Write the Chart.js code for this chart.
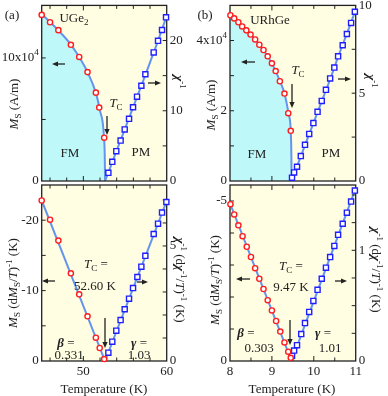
<!DOCTYPE html>
<html>
<head>
<meta charset="utf-8">
<script src="https://cdn.jsdelivr.net/npm/chart.js@4.4.1/dist/chart.umd.min.js"></script>
<style>
  body { margin: 0; background: #fff; }
  #wrap { position: relative; width: 388px; height: 396px; overflow: hidden; }
  canvas { position: absolute; left: 0; top: 0; }
  .t { position: absolute; transform: translate(-50%, -50%); white-space: nowrap;
       font: 13px "Liberation Serif", serif; color: #222; line-height: 1; z-index: 5; }
  .rl { transform: translate(-50%, -50%) rotate(-90deg); }
  .rr { transform: translate(-50%, -50%) rotate(90deg); }
  sub { font-size: 9px; vertical-align: -3px; }
  sup { font-size: 9px; vertical-align: 5px; }
</style>
</head>
<body>
<div id="wrap">
  <canvas id="c1" width="388" height="396"></canvas>
  <canvas id="c2" width="388" height="396"></canvas>
  <canvas id="c3" width="388" height="396"></canvas>
  <canvas id="c4" width="388" height="396"></canvas>

  <div class="t" style="left:12px;top:14px">(a)</div>
  <div class="t" style="left:74px;top:19px">UGe<sub>2</sub></div>
  <div class="t" style="left:70px;top:152px">FM</div>
  <div class="t" style="left:141px;top:151px">PM</div>
  <div class="t" style="left:116px;top:104px"><i>T</i><sub>C</sub></div>
  <div class="t rl" style="left:15px;top:104px"><i>M</i><sub>S</sub> (A/m)</div>
  <div class="t rr" style="left:180px;top:82px"><b><i>χ</i></b><sup>-1</sup></div>

  <div class="t" style="left:205px;top:14px">(b)</div>
  <div class="t" style="left:270px;top:19px">URhGe</div>
  <div class="t" style="left:257px;top:153px">FM</div>
  <div class="t" style="left:331px;top:152px">PM</div>
  <div class="t" style="left:298px;top:71px"><i>T</i><sub>C</sub></div>
  <div class="t rl" style="left:212px;top:105px"><i>M</i><sub>S</sub> (A/m)</div>
  <div class="t rr" style="left:372px;top:81px"><b><i>χ</i></b><sup>-1</sup></div>

  <div class="t" style="left:96px;top:265px"><i>T</i><sub>C</sub> =</div>
  <div class="t" style="left:95px;top:285px">52.60 K</div>
  <div class="t" style="left:66px;top:342px"><b><i>β</i></b> =</div>
  <div class="t" style="left:69px;top:354px">0.331</div>
  <div class="t" style="left:139px;top:342px"><b><i>γ</i></b> =</div>
  <div class="t" style="left:139px;top:354px">1.03</div>
  <div class="t rl" style="left:13px;top:283px"><i>M</i><sub>S</sub> (d<i>M</i><sub>S</sub>/<i>T</i>)<sup>-1</sup> (K)</div>
  <div class="t rr" style="left:181px;top:280px"><b><i>χ</i></b><sup>-1</sup> (d<b><i>χ</i></b><sup>-1</sup>/<i>T</i>)<sup>-1</sup> (K)</div>
  <div class="t" style="left:104px;top:388px">Temperature (K)</div>

  <div class="t" style="left:291px;top:267px"><i>T</i><sub>C</sub> =</div>
  <div class="t" style="left:291px;top:286px">9.47 K</div>
  <div class="t" style="left:246px;top:332px"><b><i>β</i></b> =</div>
  <div class="t" style="left:259px;top:347px">0.303</div>
  <div class="t" style="left:323px;top:332px"><b><i>γ</i></b> =</div>
  <div class="t" style="left:330px;top:347px">1.01</div>
  <div class="t rl" style="left:215px;top:280px"><i>M</i><sub>S</sub> (d<i>M</i><sub>S</sub>/<i>T</i>)<sup>-1</sup> (K)</div>
  <div class="t rr" style="left:377px;top:270px"><b><i>χ</i></b><sup>-1</sup> (d<b><i>χ</i></b><sup>-1</sup>/<i>T</i>)<sup>-1</sup> (K)</div>
  <div class="t" style="left:292px;top:388px">Temperature (K)</div>
</div>

<script>
// ---- UGe2, top: spontaneous magnetisation and inverse susceptibility
const ugeMsT = [45.0, 46.0, 47.0, 48.5, 49.5, 50.5, 51.5, 51.9, 52.5];
const ugeMs = [135000, 129000, 122600, 110700, 100800, 88500, 71800, 59700, 35200];
const ugeMsFitT = [45.0, 46.0, 47.0, 48.5, 49.5, 50.5, 51.5, 52.0, 52.45, 52.58, 52.6];
const ugeMsFit = [135500, 129200, 122400, 110900, 100700, 88500, 71600, 57000, 38000, 15000, 0];
const ugeChiT = [53.0, 53.47, 53.95, 54.47, 54.96, 55.48, 55.96, 56.44, 56.96, 57.44, 58.44, 58.96, 59.44, 59.92];
const ugeChi = [1.17, 2.73, 4.24, 5.75, 7.34, 8.85, 10.5, 12.0, 13.56, 15.2, 18.3, 19.96, 21.5, 23.3];
const ugeChiFitT = [52.6, 53.0, 54.0, 55.0, 56.0, 57.0, 58.0, 59.0, 60.0];
const ugeChiFit = [0, 1.2, 4.35, 7.45, 10.6, 13.7, 16.9, 20.1, 23.5];

// ---- URhGe, top
const urhMsT = [8.01, 8.10, 8.20, 8.29, 8.39, 8.49, 8.60, 8.70, 8.80, 8.90, 9.00, 9.09, 9.19, 9.30, 9.39, 9.45];
const urhMs = [47200, 46300, 45200, 44000, 42900, 41700, 40300, 38800, 37300, 35500, 33500, 31300, 28400, 24900, 19300, 14300];
const urhMsFitT = [8.0, 8.2, 8.4, 8.6, 8.8, 9.0, 9.2, 9.3, 9.4, 9.45, 9.465, 9.47];
const urhMsFit = [47300, 45200, 42800, 40300, 37300, 33500, 28200, 24900, 19000, 14300, 7000, 0];
const urhChiT = [9.48, 9.53, 9.60, 9.69, 9.79, 9.89, 9.99, 10.09, 10.19, 10.29, 10.39, 10.49, 10.58, 10.69, 10.79, 10.89, 10.98];
const urhChi = [0.19, 0.49, 0.81, 1.42, 2.06, 2.68, 3.30, 3.94, 4.56, 5.19, 5.84, 6.46, 7.10, 7.73, 8.37, 9.00, 9.64];
const urhChiFitT = [9.47, 9.5, 9.6, 9.8, 10.0, 10.2, 10.4, 10.6, 10.8, 11.0];
const urhChiFit = [0, 0.3, 0.85, 2.1, 3.35, 4.6, 5.85, 7.2, 8.45, 9.75];

// ---- UGe2, bottom: Kouvel-Fisher plots
const ugeKfT = [45.0, 46.0, 47.0, 48.5, 49.5, 50.5, 51.5, 51.96, 52.5];
const ugeKf = [-22.8, -20.07, -17.1, -12.46, -9.47, -6.35, -3.31, -1.85, -0.28];
const ugeKfFitT = [45.0, 52.6];
const ugeKfFit = [-22.8, 0];
const ugeKfChiT = [53.0, 53.47, 53.95, 54.47, 54.96, 55.48, 55.96, 56.48, 56.96, 57.44, 58.44, 58.96, 59.44, 59.96];
const ugeKfChi = [0.36, 0.84, 1.32, 1.78, 2.25, 2.71, 3.17, 3.65, 4.10, 4.57, 5.52, 5.97, 6.45, 6.91];
const ugeKfChiFitT = [52.6, 60.0];
const ugeKfChiFit = [0, 6.95];

// ---- URhGe, bottom
const urhKfT = [8.01, 8.10, 8.20, 8.30, 8.40, 8.50, 8.60, 8.70, 8.80, 8.90, 9.00, 9.10, 9.20, 9.30, 9.39, 9.45];
const urhKf = [-4.90, -4.58, -4.24, -3.90, -3.57, -3.25, -2.90, -2.57, -2.25, -1.90, -1.58, -1.25, -0.92, -0.58, -0.29, -0.10];
const urhKfFitT = [8.0, 9.47];
const urhKfFit = [-4.93, 0];
const urhKfChiT = [9.48, 9.53, 9.60, 9.70, 9.79, 9.89, 9.99, 10.09, 10.19, 10.29, 10.39, 10.49, 10.58, 10.69, 10.79, 10.89, 10.98];
const urhKfChi = [0.048, 0.094, 0.143, 0.243, 0.343, 0.443, 0.543, 0.643, 0.743, 0.843, 0.939, 1.04, 1.14, 1.24, 1.34, 1.44, 1.54];
const urhKfChiFitT = [9.47, 11.0];
const urhKfChiFit = [0, 1.56];

// ---- ticks and tick labels
const ugeTempTicks = [46, 48, 50, 52, 54, 56, 58];
const ugeTempLabels = [50, 60];
const urhTempTicks = [8.5, 9, 9.5, 10, 10.5];
const urhTempLabels = [8, 9, 10, 11];
const ugeMsTicks = [50000, 100000];
const ugeMsTickVals = [0, 100000];
const ugeMsTickText = ['0', '10x10^4'];
const ugeChiTicks = [5, 10, 15, 20];
const ugeChiTickVals = [0, 10, 20];
const urhMsTicks = [10000, 20000, 30000, 40000];
const urhMsTickVals = [0, 20000, 40000];
const urhMsTickText = ['0', '2', '4x10^4'];
const urhChiTicks = [2.5, 5, 7.5];
const urhChiTickVals = [0, 5, 10];
const ugeKfTicks = [-5, -10, -15, -20];
const ugeKfTickVals = [0, -10, -20];
const ugeKfChiTicks = [1, 2, 3, 4, 5, 6, 7];
const ugeKfChiTickVals = [0, 5];
const urhKfTicks = [-1, -2, -3, -4, -5];
const urhKfTickVals = [0, -5];
const urhKfChiTicks = [0.25, 0.5, 0.75, 1, 1.25, 1.5];
const urhKfChiTickVals = [0, 1];

const FIT = '#6594ee', RED = '#ff1e1e', BLUE = '#2020ff', CYAN = '#bff8f8', PANEL = '#fffde2', INK = '#222';
const FONT = '13px "Liberation Serif", serif';
const SUPFONT = '9px "Liberation Serif", serif';

const pts = (xs, ys) => xs.map((x, i) => ({ x: x, y: ys[i] }));

const fitSet = (xs, ys, axis, fill) => ({
  data: pts(xs, ys), yAxisID: axis, showLine: true, borderColor: FIT, borderWidth: 2,
  pointRadius: 0, fill: fill ? 'origin' : false, backgroundColor: CYAN,
  cubicInterpolationMode: 'monotone', order: 1,
});
const circleSet = (xs, ys, axis) => ({
  data: pts(xs, ys), yAxisID: axis, marker: true, showLine: false, clip: false, order: 0,
  pointStyle: 'circle', pointRadius: 2.6, pointBorderWidth: 1.4,
  pointBorderColor: RED, pointBackgroundColor: '#fff',
});
const squareSet = (xs, ys, axis) => ({
  data: pts(xs, ys), yAxisID: axis, marker: true, showLine: false, clip: false, order: 0,
  pointStyle: 'rect', pointRadius: 3.6, pointBorderWidth: 1.4,
  pointBorderColor: BLUE, pointBackgroundColor: '#fff',
});

function drawLabel(ctx, text, x, y, align) {
  const parts = String(text).split('^');
  ctx.font = FONT;
  const wb = ctx.measureText(parts[0]).width;
  ctx.font = SUPFONT;
  const ws = parts[1] ? ctx.measureText(parts[1]).width : 0;
  const w = wb + ws;
  const x0 = align === 'right' ? x - w : align === 'center' ? x - w / 2 : x;
  ctx.textAlign = 'left';
  ctx.textBaseline = 'middle';
  ctx.font = FONT;
  ctx.fillText(parts[0], x0, y);
  if (parts[1]) {
    ctx.font = SUPFONT;
    ctx.fillText(parts[1], x0 + wb, y - 5);
  }
}

function arrow(ctx, x1, y1, x2, y2) {
  const a = Math.atan2(y2 - y1, x2 - x1), h = 6, w = 2.6;
  const bx = x2 - h * Math.cos(a), by = y2 - h * Math.sin(a);
  ctx.lineWidth = 1.3;
  ctx.beginPath(); ctx.moveTo(x1, y1); ctx.lineTo(bx, by); ctx.stroke();
  ctx.beginPath();
  ctx.moveTo(x2, y2);
  ctx.lineTo(bx - w * Math.sin(a), by + w * Math.cos(a));
  ctx.lineTo(bx + w * Math.sin(a), by - w * Math.cos(a));
  ctx.closePath(); ctx.fill();
}

function drawFrame(chart, cfg) {
  const { ctx, chartArea: a, scales } = chart;
  ctx.save();
  ctx.strokeStyle = INK; ctx.fillStyle = INK;
  ctx.lineWidth = 1.3;
  ctx.strokeRect(a.left, a.top, a.right - a.left, a.bottom - a.top);
  ctx.lineWidth = 1;
  ctx.beginPath();
  cfg.xTicks.forEach(v => {
    const p = scales.x.getPixelForValue(v);
    const L = cfg.xLabels.includes(v) || v === cfg.xMid ? 5 : 3.5;
    ctx.moveTo(p, a.bottom); ctx.lineTo(p, a.bottom - L);
    ctx.moveTo(p, a.top); ctx.lineTo(p, a.top + L);
  });
  cfg.yLTicks.forEach(v => {
    const p = scales.yL.getPixelForValue(v);
    ctx.moveTo(a.left, p); ctx.lineTo(a.left + 4, p);
  });
  cfg.yRTicks.forEach(v => {
    const p = scales.yR.getPixelForValue(v);
    ctx.moveTo(a.right, p); ctx.lineTo(a.right - 4, p);
  });
  ctx.stroke();
  cfg.xLabels.forEach(v => drawLabel(ctx, v, scales.x.getPixelForValue(v), a.bottom + 11, 'center'));
  cfg.yLVals.forEach((v, i) => drawLabel(ctx, cfg.yLText ? cfg.yLText[i] : v, a.left - 3, scales.yL.getPixelForValue(v), 'right'));
  cfg.yRVals.forEach((v, i) => drawLabel(ctx, v, a.right + 3, scales.yR.getPixelForValue(v), 'left'));
  cfg.arrows.forEach(r => arrow(ctx, r[0], r[1], r[2], r[3]));
  ctx.restore();
}

const framePlugin = cfg => ({
  id: 'frame',
  beforeDatasetsDraw(chart) {
    const { ctx, chartArea: a } = chart;
    ctx.save();
    ctx.fillStyle = PANEL;
    ctx.fillRect(a.left, a.top, a.right - a.left, a.bottom - a.top);
    ctx.restore();
    chart.$framed = false;
  },
  beforeDatasetDraw(chart, args) {
    if (!chart.$framed && chart.data.datasets[args.index].marker) {
      drawFrame(chart, cfg);
      chart.$framed = true;
    }
  },
  afterDatasetsDraw(chart) {
    if (!chart.$framed) drawFrame(chart, cfg);
  },
});

const makeChart = (id, box, ranges, datasets, cfg) => new Chart(document.getElementById(id), {
  type: 'scatter',
  data: { datasets: datasets },
  options: {
    responsive: false,
    animation: false,
    devicePixelRatio: 1,
    layout: { padding: { left: box[0], right: 388 - box[1], top: box[2], bottom: 396 - box[3] } },
    plugins: { legend: { display: false }, tooltip: { enabled: false } },
    scales: {
      x: { type: 'linear', display: false, min: ranges.x[0], max: ranges.x[1] },
      yL: { type: 'linear', position: 'left', display: false, min: ranges.yL[0], max: ranges.yL[1], reverse: !!ranges.rev },
      yR: { type: 'linear', position: 'right', display: false, min: ranges.yR[0], max: ranges.yR[1] },
    },
  },
  plugins: [framePlugin(cfg)],
});

makeChart('c1', [41.7, 166.7, 4, 181],
  { x: [45, 60], yL: [0, 142700], yR: [0, 25] },
  [
    circleSet(ugeMsT, ugeMs, 'yL'),
    squareSet(ugeChiT, ugeChi, 'yR'),
    fitSet(ugeMsFitT, ugeMsFit, 'yL', true),
    fitSet(ugeChiFitT, ugeChiFit, 'yR', false),
  ],
  {
    xTicks: ugeTempTicks, xLabels: [], xMid: 50,
    yLTicks: ugeMsTicks, yLVals: ugeMsTickVals, yLText: ugeMsTickText,
    yRTicks: ugeChiTicks, yRVals: ugeChiTickVals,
    arrows: [[65, 64, 52, 64], [148, 83, 161, 83], [107, 116, 107, 135]],
  });

makeChart('c2', [230, 355.7, 4, 181],
  { x: [8, 11], yL: [0, 50000], yR: [0, 10] },
  [
    circleSet(urhMsT, urhMs, 'yL'),
    squareSet(urhChiT, urhChi, 'yR'),
    fitSet(urhMsFitT, urhMsFit, 'yL', true),
    fitSet(urhChiFitT, urhChiFit, 'yR', false),
  ],
  {
    xTicks: urhTempTicks, xLabels: [], xMid: 9,
    yLTicks: urhMsTicks, yLVals: urhMsTickVals, yLText: urhMsTickText,
    yRTicks: urhChiTicks, yRVals: urhChiTickVals,
    arrows: [[255, 62, 241, 62], [338, 79, 351, 79], [292, 84, 292, 108]],
  });

makeChart('c3', [41.7, 166.7, 185, 361],
  { x: [45, 60], yL: [-25, 0], yR: [0, 7.65], rev: true },
  [
    circleSet(ugeKfT, ugeKf, 'yL'),
    squareSet(ugeKfChiT, ugeKfChi, 'yR'),
    fitSet(ugeKfFitT, ugeKfFit, 'yL', false),
    fitSet(ugeKfChiFitT, ugeKfChiFit, 'yR', false),
  ],
  {
    xTicks: ugeTempTicks, xLabels: ugeTempLabels,
    yLTicks: ugeKfTicks, yLVals: ugeKfTickVals,
    yRTicks: ugeKfChiTicks, yRVals: ugeKfChiTickVals,
    arrows: [[55, 281, 42, 281], [137, 282, 148, 282], [105, 318, 105, 348]],
  });

makeChart('c4', [230, 355.7, 185, 361],
  { x: [8, 11], yL: [-5.5, 0], yR: [0, 1.59], rev: true },
  [
    circleSet(urhKfT, urhKf, 'yL'),
    squareSet(urhKfChiT, urhKfChi, 'yR'),
    fitSet(urhKfFitT, urhKfFit, 'yL', false),
    fitSet(urhKfChiFitT, urhKfChiFit, 'yR', false),
  ],
  {
    xTicks: urhTempTicks, xLabels: urhTempLabels,
    yLTicks: urhKfTicks, yLVals: urhKfTickVals,
    yRTicks: urhKfChiTicks, yRVals: urhKfChiTickVals,
    arrows: [[250, 279, 236, 279], [335, 281, 347, 281], [290, 320, 290, 345]],
  });
</script>
</body>
</html>
